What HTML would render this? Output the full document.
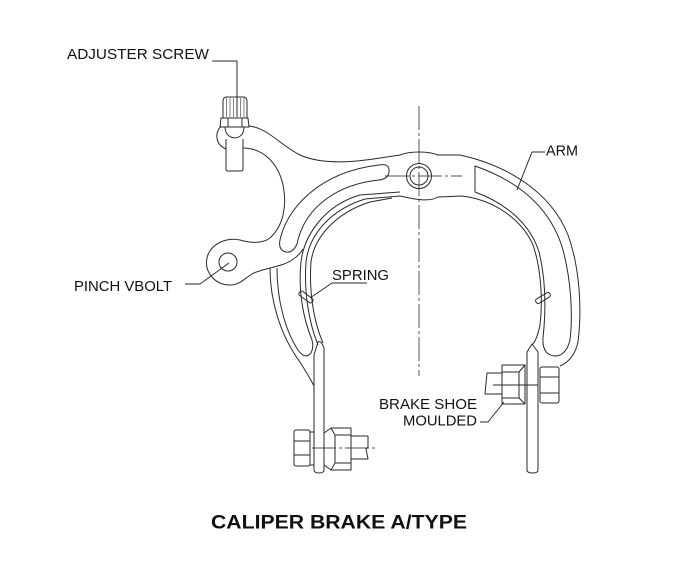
<!DOCTYPE html>
<html>
<head>
<meta charset="utf-8">
<style>
  html,body{margin:0;padding:0;background:#fff;overflow:hidden;}
  svg{display:block;}
  text{font-family:"Liberation Sans",Arial,sans-serif;fill:#111;}
</style>
</head>
<body>
<svg width="677" height="562" viewBox="0 0 677 562" xmlns="http://www.w3.org/2000/svg">
<rect width="677" height="562" fill="#fff"/>

<!-- center lines -->
<g fill="none" stroke="#555" stroke-width="1" stroke-dasharray="24 3 3 3">
  <path d="M419,106 L419,376"/>
  <path d="M385,176 L462,176"/>
  <path d="M312,448 L376,448"/>
</g>

<g fill="none" stroke="#2a2a2a" stroke-width="1" stroke-linejoin="round">
  <!-- pivot -->
  <circle cx="419" cy="176" r="12.5"/>
  <circle cx="419" cy="176" r="9"/>

  <!-- adjuster screw -->
  <path d="M223,118 L223,101 Q223,97 227,97 L243,97 Q247,97 247,101 L247,118"/>
  <g stroke="#666" stroke-width="0.8">
    <path d="M226.5,98 L226.5,117 M230,98 L230,117 M233.5,98 L233.5,117 M240.5,98 L240.5,117 M244,98 L244,117"/>
  </g>
  <path d="M221,118 L248,118 L249,127 L220,127 Z"/>
  <path d="M228,118 L228,127 M242,118 L242,127"/>
  <path d="M225,127 C225,141 244,142 244,127"/>
  <path d="M221,126 C214,134 216,145 226,149"/>
  <path d="M226,139 L226,169 Q226,171 228,171 L241,171 Q243,171 243,169 L243,139"/>

  <!-- top edge of upper arm continuing to right arm outer edge -->
  <path d="M249,126 C268,128 280,145 300,155 C320,164 350,163 380,158 L400,155 C410,151 428,151 438,155 L460,155 C505,165 550,190 568,235 C580,268 582,310 578,342 Q574,360 560,366"/>

  <!-- upper arm left edge + pinch lobe -->
  <path d="M243,148 C262,148 278,162 283,185 C287,205 284,225 270,238 C262,244 250,243 240,240 C226,237 210,244 207,258 C204,272 215,285 230,285 C240,285 245,278 252,274 C262,268 280,268 292,260 C298,256 301,253 303,249"/>
  <circle cx="228" cy="262" r="9"/>

  <!-- upper slot -->
  <path d="M280,240 C286,210 318,172 379,165 Q390,163 389,172 Q388,179 379,180 C340,184 305,205 297,244 Q293,253 286,252 Q278,250 280,240 Z"/>

  <!-- lower-left arm outer + slot -->
  <path d="M270,268 C270,300 280,335 300,362 C305,370 310,378 314,386"/>
  <path d="M277,268 C277,300 285,330 298,350 Q305,360 311,353 Q314,347 312,340"/>
  <path d="M312,340 C303,318 298,290 301,262 C304,235 325,205 360,195 L400,192"/>
  <!-- inner edge of left arm, crossbar bottom, inner edge of right arm -->
  <path d="M318,345 C308,320 304,290 306,262 C309,235 330,210 365,199 L400,196 C410,198 428,203 438,197 L462,196 C495,200 522,220 533,245 C541,268 543,300 540,325 Q537,340 532,345"/>
  <!-- spring wire -->
  <path d="M323,343 C313,320 309,290 311,262 C314,238 335,213 370,202 L392,198"/>

  <!-- right arm slot with trapezoid end -->
  <path d="M475,166 C515,180 550,205 563,250 C571,280 573,315 570,340 Q566,356 555,356 Q542,355 543,338 C546,310 546,280 539,252 C530,223 505,203 475,192 Z"/>

  <!-- spring clips -->
  <rect x="-8" y="-2.5" width="16" height="5" rx="2" transform="translate(306,297) rotate(36)"/>
  <rect x="-8" y="-2.5" width="16" height="5" rx="2" transform="translate(543,298) rotate(-31)"/>

  <!-- lower-left shoe assembly -->
  <path d="M314,355 L318,342 Q321,340 324,348 L324,470 Q324,473 319,473 Q314,473 314,470 Z"/>
  <rect x="310" y="432" width="4" height="33"/>
  <rect x="294" y="430" width="16" height="36" rx="2"/>
  <path d="M294,441 L310,441 M294,455 L310,455"/>
  <path d="M324,433 L331,428 L351,428 L351,470 L331,470 L324,465"/>
  <path d="M331,428 L335,435 L351,435 M335,435 L335,463 L351,463 M331,470 L335,463"/>
  <path d="M351,436 L368,436 L368,447 L366,449 L368,459 L351,459"/>

  <!-- right shoe assembly -->
  <path d="M527,352 L532,344 L538,352 L538,470 Q538,473 533,473 Q527,473 527,470 Z"/>
  <path d="M525,365 L502,365 L502,404 L525,404 Z"/>
  <path d="M502,372 L519,372 L519,398 L502,398 M519,372 L525,365 M519,398 L525,404"/>
  <path d="M502,373 L487,373 L485,394 L502,394"/>
  <path d="M493,385 L538,385"/>
  <rect x="540" y="367" width="19" height="36" rx="2"/>
  <path d="M540,377 L559,377 M540,393 L559,393"/>

  <!-- leaders -->
  <path d="M212,61 L237,61 L237,117"/>
  <path d="M545,152 L532,152 L517,190"/>
  <path d="M367,283 L332,283 L310,298"/>
  <path d="M185,284 L200,284 L229,263"/>
  <path d="M480,422 L488,422 L504,402"/>
</g>

<!-- labels -->
<text x="67" y="59" font-size="15" textLength="142" lengthAdjust="spacingAndGlyphs">ADJUSTER SCREW</text>
<text x="546" y="155.5" font-size="15" textLength="32" lengthAdjust="spacingAndGlyphs">ARM</text>
<text x="332" y="280" font-size="15" textLength="57" lengthAdjust="spacingAndGlyphs">SPRING</text>
<text x="74" y="291" font-size="15" textLength="98" lengthAdjust="spacingAndGlyphs">PINCH VBOLT</text>
<text x="379" y="409" font-size="15" textLength="98" lengthAdjust="spacingAndGlyphs">BRAKE SHOE</text>
<text x="403" y="425.5" font-size="15" textLength="74" lengthAdjust="spacingAndGlyphs">MOULDED</text>
<text x="211" y="528.5" font-size="19" font-weight="bold" textLength="256" lengthAdjust="spacingAndGlyphs">CALIPER BRAKE A/TYPE</text>
</svg>
</body>
</html>
